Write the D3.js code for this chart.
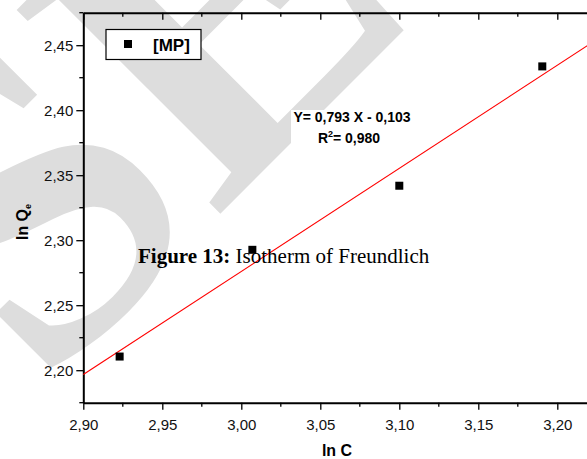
<!DOCTYPE html>
<html>
<head>
<meta charset="utf-8">
<script src="https://cdn.jsdelivr.net/npm/d3@7"></script>
<style>
  body { margin: 0; background: #fff; }
  svg { display: block; font-family: "Liberation Sans", Arial, sans-serif; }
</style>
</head>
<body>
<div id="chart-container"><svg></svg></div>
<script>
const chartSize = {width: 587, height: 459};
const margin = {left: 83.3, top: 12.7};
const plotHeight = 390;
const pxPerX = 79 / 0.05;

const lnC = [2.923, 3.007, 3.100, 3.1905];
const lnQe = [2.2105, 2.2926, 2.3419, 2.4337];
const xTicks = [2.90, 2.95, 3.00, 3.05, 3.10, 3.15, 3.20];
const yTicks = [2.20, 2.25, 2.30, 2.35, 2.40, 2.45];
const fitSlope = 0.793;
const fitIntercept = -0.103;
const xDomain = [2.90, 3.22];
const yDomain = [2.175, 2.475];

const comma = d => d3.format(".2f")(d).replace(".", ",");

const draw = () => {
  const x = d3.scaleLinear()
    .domain(xDomain)
    .range([margin.left, margin.left + (xDomain[1] - xDomain[0]) * pxPerX]);
  const y = d3.scaleLinear()
    .domain(yDomain)
    .range([margin.top + plotHeight, margin.top]);

  const svg = d3.select("#chart-container svg")
    .attr("width", chartSize.width)
    .attr("height", chartSize.height);

  // watermark behind everything
  svg.append("text")
    .attr("transform", "translate(42,392) rotate(-45)")
    .attr("font-family", "Liberation Serif, serif")
    .attr("font-weight", "bold")
    .attr("font-size", 440)
    .attr("fill", "#dddddd")
    .text("SE");

  // white box behind the fit equation
  svg.append("rect")
    .attr("x", 291).attr("y", 110)
    .attr("width", 122).attr("height", 40)
    .attr("fill", "#fff");

  const minor = (ticks) => d3.range(ticks.length - 1).map(i => (ticks[i] + ticks[i + 1]) / 2);
  const xMinor = minor(xTicks).concat([3.225]);
  const yMinor = [2.175].concat(minor(yTicks)).concat([2.475]);

  // bottom axis
  const xAxis = d3.axisBottom(x).tickValues(xTicks).tickFormat(comma).tickSize(7).tickSizeOuter(0);
  const gx = svg.append("g")
    .attr("class", "x-axis")
    .attr("transform", `translate(0,${y(yDomain[0])})`)
    .call(xAxis);
  xMinor.forEach(v => {
    gx.append("line")
      .attr("x1", x(v)).attr("x2", x(v))
      .attr("y1", 0).attr("y2", 4)
      .attr("stroke", "#000").attr("stroke-width", 1.3);
  });

  // top axis, ticks pointing in
  const gt = svg.append("g")
    .attr("class", "top-axis")
    .attr("transform", `translate(0,${y(yDomain[1])})`)
    .call(d3.axisTop(x).tickValues(xTicks).tickFormat("").tickSize(-7).tickSizeOuter(0));
  xMinor.forEach(v => {
    gt.append("line")
      .attr("x1", x(v)).attr("x2", x(v))
      .attr("y1", 0).attr("y2", 4)
      .attr("stroke", "#000").attr("stroke-width", 1.3);
  });

  // left axis
  const gy = svg.append("g")
    .attr("class", "y-axis")
    .attr("transform", `translate(${x(xDomain[0])},0)`)
    .call(d3.axisLeft(y).tickValues(yTicks).tickFormat(comma).tickSize(7).tickSizeOuter(0));
  yMinor.forEach(v => {
    gy.append("line")
      .attr("x1", -4).attr("x2", 0)
      .attr("y1", y(v)).attr("y2", y(v))
      .attr("stroke", "#000").attr("stroke-width", 1.3);
  });

  svg.selectAll(".x-axis path, .top-axis path, .y-axis path")
    .attr("stroke-width", 2);
  svg.selectAll(".tick line").attr("stroke-width", 1.3);
  svg.selectAll(".x-axis text, .y-axis text")
    .attr("font-family", "Liberation Sans, Arial, sans-serif")
    .attr("font-size", 15)
    .attr("fill", "#111");
  gx.selectAll("text").attr("dy", "1.15em");
  gy.selectAll("text").attr("x", -10);

  // fit line
  svg.append("line")
    .attr("x1", x(xDomain[0]))
    .attr("y1", y(fitSlope * xDomain[0] + fitIntercept))
    .attr("x2", x(xDomain[1]))
    .attr("y2", y(fitSlope * xDomain[1] + fitIntercept))
    .attr("stroke", "#ff0000")
    .attr("stroke-width", 1.1);

  // data points
  const side = 8;
  svg.selectAll("rect.pt")
    .data(d3.zip(lnC, lnQe))
    .enter()
    .append("rect")
    .attr("class", "pt")
    .attr("x", d => x(d[0]) - side / 2)
    .attr("y", d => y(d[1]) - side / 2)
    .attr("width", side)
    .attr("height", side)
    .attr("fill", "#000");

  // legend
  svg.append("rect")
    .attr("x", 106).attr("y", 29.5)
    .attr("width", 95).attr("height", 30)
    .attr("fill", "#fff").attr("stroke", "#000").attr("stroke-width", 1.2);
  svg.append("rect")
    .attr("x", 124).attr("y", 40)
    .attr("width", side).attr("height", side)
    .attr("fill", "#000");
  svg.append("text")
    .attr("x", 153).attr("y", 51)
    .attr("font-weight", "bold").attr("font-size", 17)
    .text("[MP]");

  // fit equation
  const eq = svg.append("g").attr("font-weight", "bold").attr("font-size", 14).attr("text-anchor", "middle");
  eq.append("text")
    .attr("x", 352).attr("y", 122)
    .text(`Y= ${String(fitSlope).replace(".", ",")} X - ${String(-fitIntercept).replace(".", ",")}`);
  const r2 = eq.append("text").attr("x", 349).attr("y", 143);
  r2.append("tspan").text("R");
  r2.append("tspan").attr("font-size", 9).attr("dy", -6).text("2");
  r2.append("tspan").attr("dy", 6).text("= 0,980");

  // axis titles
  svg.append("text")
    .attr("x", 337).attr("y", 456)
    .attr("text-anchor", "middle")
    .attr("font-weight", "bold").attr("font-size", 16)
    .text("ln C");
  const yl = svg.append("text")
    .attr("transform", "translate(28,222) rotate(-90)")
    .attr("text-anchor", "middle")
    .attr("font-weight", "bold").attr("font-size", 16);
  yl.append("tspan").text("ln Q");
  yl.append("tspan").attr("font-size", 9).attr("dy", 3).text("e");

  // caption overlaid on the figure
  const cap = svg.append("text")
    .attr("x", 138).attr("y", 263)
    .attr("font-family", "Liberation Serif, 'Times New Roman', serif")
    .attr("font-size", 21);
  cap.append("tspan").attr("font-weight", "bold").text("Figure 13:");
  cap.append("tspan").text(" Isotherm of Freundlich");
};

window.onload = draw;
</script>
</body>
</html>
